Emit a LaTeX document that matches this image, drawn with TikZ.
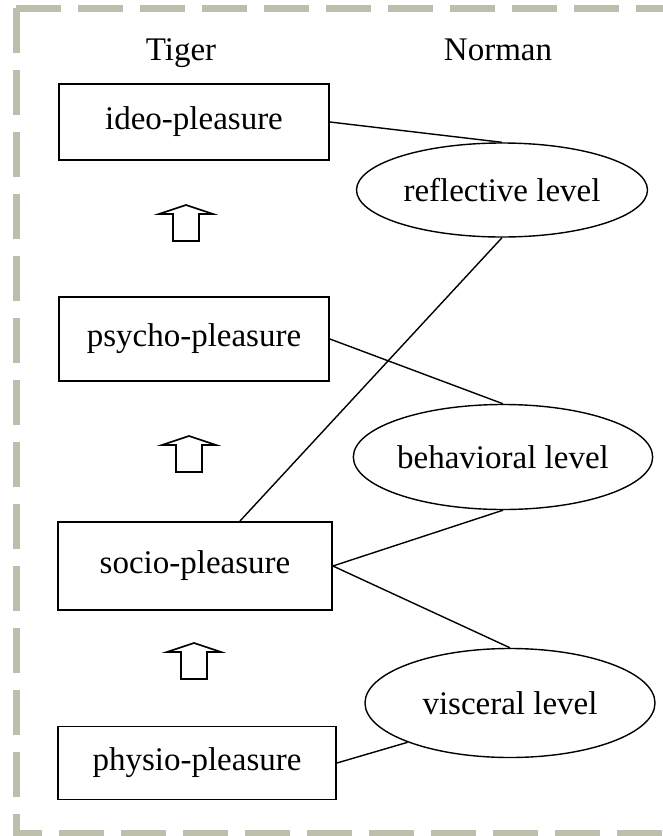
\documentclass[tikz,border=0pt]{standalone}
\usepackage{fontspec}
\setmainfont{Liberation Serif}
\usetikzlibrary{shapes.geometric}
\definecolor{framegray}{RGB}{190,190,172}
\newcommand{\drawhollowarrow}[2]
{
  \draw [line width=1.6pt, line join=miter] (#1-13,#2+36) -- (#1-13,#2+9) -- (#1-27,#2+9)
    -- (#1,#2) -- (#1+27,#2+9) -- (#1+13,#2+9) -- (#1+13,#2+36) -- cycle;
}

\begin{document}
\begin{tikzpicture}[x=1pt, y=-1pt,
    bigtext/.style={font=\fontsize{33}{40}\selectfont},
    pleasurebox/.style={draw, bigtext, rectangle, line width=1.8pt, inner sep=0pt, minimum width=270pt},
    normanellipse/.style={draw, bigtext, ellipse, line width=1.4pt, inner sep=0pt}]
    \useasboundingbox (0,0) rectangle (662,836);

    % dashed frame, its right side lies outside the picture
    \draw [framegray, line width=7pt, dash pattern=on 45pt off 17pt] (16,8) -- (700,8);
    \draw [framegray, line width=7pt, dash pattern=on 45pt off 17pt] (16,8) -- (16,833) -- (700,833);

    \node [bigtext, anchor=base] (tiger) at (181,60) {Tiger};
    \node [bigtext, anchor=base] (norman) at (498,60) {Norman};

    % Tiger's four pleasures
    \node [pleasurebox, minimum height=76pt] (ideo) at (194,122) {ideo-pleasure};
    \node [pleasurebox, minimum height=84pt] (psycho) at (194,339) {psycho-pleasure};
    \node [pleasurebox, minimum height=88pt, minimum width=274pt] (socio) at (195,566) {socio-pleasure};
    \node [pleasurebox, minimum height=73pt, minimum width=278pt] (physio) at (197,763) {physio-pleasure};

    % Norman's three levels
    \node [normanellipse, minimum width=291pt, minimum height=94pt] (reflective) at (502,190) {reflective level};
    \node [normanellipse, minimum width=293pt, minimum height=105pt] (behavioral) at (503,457) {behavioral level};
    \node [normanellipse, minimum width=290pt, minimum height=109pt] (visceral) at (510,703) {visceral level};

    \drawhollowarrow{186}{205}
    \drawhollowarrow{189}{436}
    \drawhollowarrow{194}{643}

    \draw [line width=1.4pt] (ideo.east) -- (reflective.north);
    \draw [line width=1.4pt] (reflective.south) -- (socio.45);
    \draw [line width=1.4pt] (psycho.east) -- (behavioral.north);
    \draw [line width=1.4pt] (socio.east) -- (behavioral.south);
    \draw [line width=1.4pt] (socio.east) -- (visceral.north);
    \draw [line width=1.4pt] (physio.east) -- (visceral.201);
\end{tikzpicture}
\end{document}
